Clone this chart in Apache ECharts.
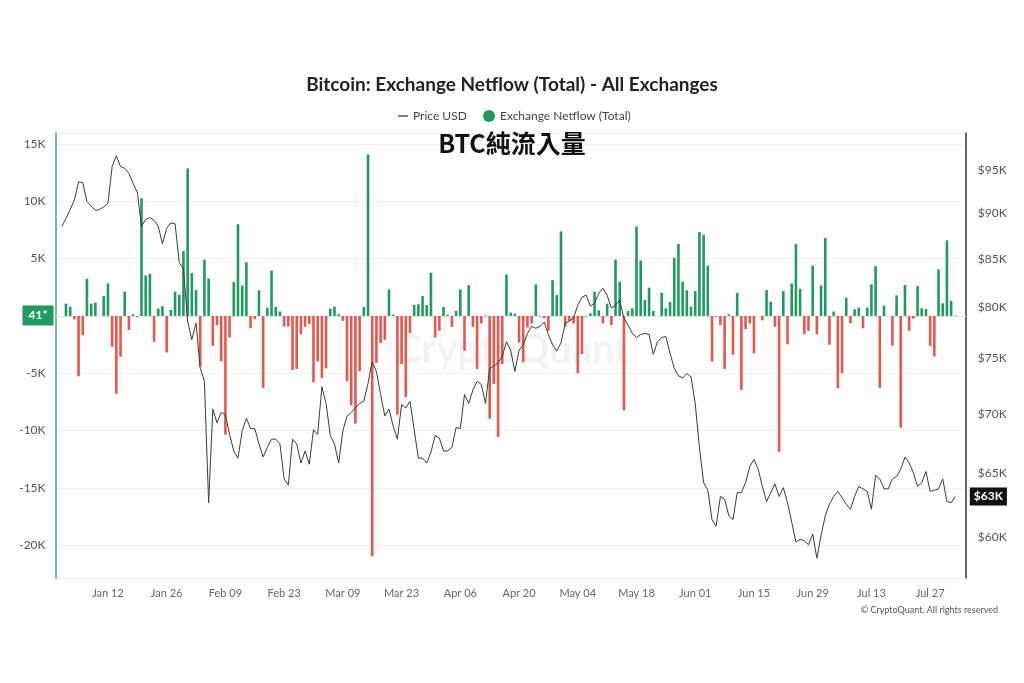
<!DOCTYPE html>
<html><head><meta charset="utf-8">
<script src="https://cdn.jsdelivr.net/npm/echarts@6/dist/echarts.min.js"></script>
<style>html,body{margin:0;padding:0;background:#fff}#c{width:1024px;height:683px}</style>
</head><body><div id="c"></div>
<script>
// ---- data (daily, 2026-01-01 .. 2026-08-02) ----
const START_YEAR = 2026;
const TICK_LABELS = ['Jan 12','Jan 26','Feb 09','Feb 23','Mar 09','Mar 23','Apr 06','Apr 20','May 04','May 18','Jun 01','Jun 15','Jun 29','Jul 13','Jul 27'];
const PRICE_TICKS = [60000,65000,70000,75000,80000,85000,90000,95000];
const NETFLOW_TICKS = [-20000,-15000,-10000,-5000,0,5000,10000,15000];

const NETFLOW = [0,
1070, 800, -300, -5260, -1680, 3240, 1070, 1160, 0, 1730,
2830, -2690, -6790, -3550, 2110, -1240, 150, -100, 10260, 3530,
3670, -2250, 640, 840, -3180, 520, 2110, 1850, 5660, 12860,
3760, 2250, -4390, 4910, 3270, -2600, -810, -3960, -10350, -1880,
2950, 8000, 2660, 4680, -1070, -290, 2230, -6270, 720, 3960,
780, 380, -920, -920, -4710, -4620, -1590, -950, -720, -5780,
-3960, -5400, -4570, 640, 810, 150, -430, -5690, -7800, -9390,
-4830, 780, 14080, -20950, -4100, -2370, -2080, 2310, 100, -8610,
-4190, -7080, -1500, 950, 1010, 1730, 950, 3760, -1880, -1300,
780, 100, -950, 430, 2310, -3030, 2690, -950, -4620, -660,
50, -8960, -5920, -10550, -4190, 3610, 290, 200, -2310, -4050,
-1010, -660, 2750, -60, -200, -1300, 3120, 1820, 7370, -950,
-430, -660, -5000, -3320, -60, 230, 2110, 490, -640, 1070,
-810, 4910, 2980, -8240, 430, 660, 7800, 4830, 1390, 2460,
430, 0, 2020, 660, 1210, 5060, 6270, 2980, 2230, 810,
2170, 7310, 7080, 4390, -3990, -90, -800, -4620, 140, -3380,
2020, -6450, -1160, -660, -3270, 0, -380, 2250, 1240, -950,
-11850, 2170, -2460, 2830, 6270, 2370, -1590, -1300, 4390, -1590,
2660, 6790, -2510, 380, -6300, -5000, 1590, -640, 580, 720,
-1070, 720, 2750, 4340, -6270, 900, 0, -2600, 1790, -9740,
2690, -1300, -230, 2600, 660, 610, -2600, -3530, 4050, 1100,
6590, 1300, 41];

const PRICE = [88500,
89400, 90400, 91500, 93600, 93500, 91300, 90800, 90300, 90400, 90700,
91100, 95400, 96700, 95400, 95200, 94600, 93400, 92400, 88500, 89300,
89500, 89200, 88500, 86600, 88300, 88900, 88800, 84600, 83900, 78600,
76800, 78400, 74100, 72900, 62600, 70400, 69200, 70100, 69900, 68200,
66800, 66200, 68500, 69600, 68700, 68700, 67400, 66300, 67100, 67800,
67800, 67400, 64500, 64000, 67800, 67400, 65800, 66800, 65700, 68600,
68200, 72400, 70900, 68100, 67400, 65800, 68500, 69800, 70100, 70500,
70900, 71100, 72700, 74700, 73800, 71700, 69800, 70400, 68900, 67800,
70800, 70500, 71100, 68600, 66200, 66200, 65800, 66700, 68100, 67900,
66800, 66800, 67100, 68800, 68700, 71700, 70900, 72100, 72900, 72600,
70900, 74100, 74300, 74600, 75200, 76600, 75800, 73800, 75800, 76300,
77400, 78100, 77900, 78100, 78500, 77300, 76300, 75700, 76500, 78400,
78600, 78900, 80200, 81000, 81200, 80100, 80400, 81400, 81900, 81200,
79900, 80200, 80700, 78900, 78200, 77400, 77000, 77300, 77400, 77300,
75400, 76600, 77000, 77100, 75500, 74100, 73400, 73200, 73600, 73300,
70900, 67100, 64200, 63600, 61300, 60800, 63100, 62900, 61600, 61300,
63400, 63400, 64200, 65500, 66100, 65300, 63900, 62700, 63400, 64100,
63100, 63800, 62600, 61100, 59600, 59800, 59700, 59400, 60200, 58400,
60100, 61600, 62500, 63100, 63500, 63000, 62500, 62100, 63100, 63900,
63700, 63500, 62100, 64800, 64500, 63700, 63700, 64500, 64700, 65300,
66300, 65800, 65000, 63900, 64200, 65100, 63500, 63600, 63700, 64500,
62700, 62600, 63100];

// ---- build categories (one blank day before, two after, as in the reference axis) ----
const MONTHS = ['Jan','Feb','Mar','Apr','May','Jun','Jul','Aug','Sep','Oct','Nov','Dec'];
const PAD_BEFORE = 1, PAD_AFTER = 2;
const categories = [];
for (let i = -PAD_BEFORE; i < NETFLOW.length + PAD_AFTER; i++) {
  const d = new Date(Date.UTC(START_YEAR, 0, 1 + i));
  categories.push(MONTHS[d.getUTCMonth()] + ' ' + String(d.getUTCDate()).padStart(2, '0'));
}
const pad = arr => Array(PAD_BEFORE).fill(null).concat(arr, Array(PAD_AFTER).fill(null));

const GREEN = '#1f9b62', RED = '#e8574c', FONT = 'Lato, sans-serif';
const lastNet = NETFLOW[NETFLOW.length - 1];
const lastPrice = PRICE[PRICE.length - 1];
const isTick = (idx, name) => TICK_LABELS.indexOf(name) >= 0;

const chart = echarts.init(document.getElementById('c'));
chart.setOption({
  animation: false,
  backgroundColor: '#fff',
  title: [
    { text: 'Bitcoin: Exchange Netflow (Total) - All Exchanges', left: 'center', top: 70,
      textStyle: { fontSize: 19, fontWeight: 'bold', color: '#222', fontFamily: FONT } },
    { text: 'BTC純流入量', left: 'center', top: 126,
      textStyle: { fontSize: 25, fontWeight: 'bold', color: '#111', fontFamily: '"Noto Sans CJK TC", sans-serif' } }
  ],
  legend: [
    { data: [{ name: 'Price USD', icon: 'rect', itemStyle: { color: '#555' } }],
      left: 393, top: 105, itemWidth: 10, itemHeight: 1.5, selectedMode: false,
      textStyle: { fontSize: 12, color: '#444', fontFamily: FONT } },
    { data: [{ name: 'Exchange Netflow (Total)', icon: 'circle', itemStyle: { color: GREEN } }],
      left: 478, top: 105, itemWidth: 12, itemHeight: 12, selectedMode: false,
      textStyle: { fontSize: 12, color: '#444', fontFamily: FONT } }
  ],
  graphic: [
    { type: 'text', left: 'center', top: 330, z: 0,
      style: { text: 'CryptoQuant', fontSize: 40, fontWeight: 'bold', fill: 'rgba(70,80,120,0.07)', fontFamily: FONT } },
    { type: 'text', right: 26, top: 606,
      style: { text: '© CryptoQuant. All rights reserved', fontSize: 9, fill: '#555', fontFamily: FONT } }
  ],
  grid: { left: 55.5, right: 58.2, top: 133, bottom: 105 },
  xAxis: {
    type: 'category', data: categories, boundaryGap: true,
    axisLine: { lineStyle: { color: '#e2e2e2' } },
    axisTick: { interval: isTick, alignWithLabel: true, length: 4, lineStyle: { color: '#d5d5d5' } },
    axisLabel: { interval: isTick, color: '#666', fontSize: 11, margin: 10, fontFamily: FONT },
    splitLine: { show: false }
  },
  yAxis: [
    { type: 'value', position: 'left', min: -22850, max: 15950, splitNumber: 8,
      axisLine: { show: true, lineStyle: { color: '#3dae80', width: 1.5 } },
      axisTick: { show: false },
      axisLabel: { customValues: NETFLOW_TICKS, color: '#555', fontSize: 12, margin: 10, fontFamily: FONT,
        formatter: v => v === 0 ? '' : (v / 1000) + 'K' },
      splitLine: { lineStyle: { color: '#f1f1f1' } } },
    { type: 'log', position: 'right', min: 56970, max: 99500,
      axisLine: { show: true, lineStyle: { color: '#333', width: 1.5 } },
      axisTick: { show: false }, splitLine: { show: false },
      axisLabel: { customValues: PRICE_TICKS, color: '#555', fontSize: 12, margin: 12, fontFamily: FONT,
        formatter: v => '$' + Math.round(v / 1000) + 'K' } }
  ],
  series: [
    { name: 'Exchange Netflow (Total)', type: 'bar', yAxisIndex: 0, data: pad(NETFLOW), barWidth: '62%',
      itemStyle: { color: p => (p.value >= 0 ? GREEN : RED) },
      markLine: { silent: true, symbol: ['none', 'none'], animation: false,
        lineStyle: { color: 'rgba(0,0,0,0)', width: 1, type: 'solid' },
        label: { show: true, position: 'start', distance: 2, formatter: p => p.value + '*', backgroundColor: GREEN,
          color: '#fff', padding: [4, 6], fontSize: 12, fontWeight: 'bold', fontFamily: FONT },
        data: [{ yAxis: lastNet }] } },
    { name: 'Price USD', type: 'line', yAxisIndex: 1, data: pad(PRICE), symbol: 'none', z: 3,
      lineStyle: { color: '#3c3c3c', width: 1 }, itemStyle: { color: '#555' },
      markLine: { silent: true, symbol: ['none', 'none'], animation: false,
        lineStyle: { color: 'rgba(0,0,0,0)', width: 1, type: 'solid' },
        label: { show: true, position: 'end', distance: 4, formatter: p => '$' + Math.round(p.value / 1000) + 'K',
          backgroundColor: '#111', color: '#fff', padding: [3, 4], fontSize: 12, fontWeight: 'bold', fontFamily: FONT },
        data: [{ yAxis: lastPrice }] } }
  ]
});
</script></body></html>
